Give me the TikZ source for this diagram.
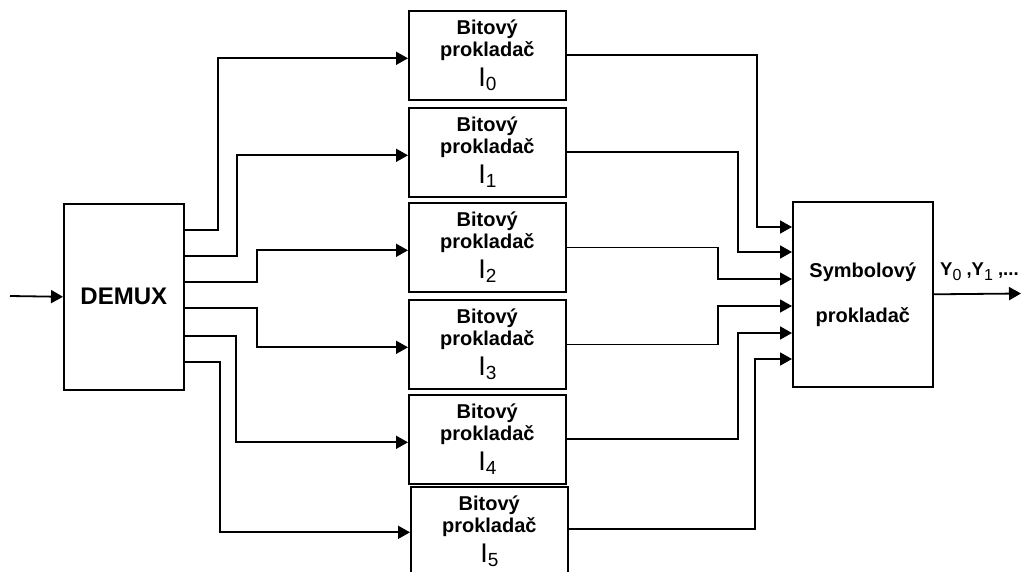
\documentclass[tikz,border=0pt]{standalone}
\usepackage{fontspec}
\setmainfont{Liberation Sans}
\usetikzlibrary{arrows.meta}
\newcommand\bitlabel[1]{Bitový\\prokladač\\[6pt]{\fontsize{27}{27}\selectfont\mdseries I\raisebox{-4pt}{\fontsize{19}{19}\selectfont #1}}}
\begin{document}
\begin{tikzpicture}[x=1pt,y=-1pt,
  box/.style={draw, line width=1.6pt, fill=white, inner sep=0pt},
  bitbox/.style={box, minimum width=157pt, minimum height=89pt, anchor=north west, align=center,
    font=\fontsize{20}{22}\selectfont\bfseries},
  arr/.style={line width=1.8pt, -{Triangle[length=12pt,width=13pt]}},
  arrthin/.style={arr, line width=1.3pt},
]
\clip (0,0) rectangle (1021,571);
\fill[white] (0,0) rectangle (1021,571);

% DEMUX
\node[box, minimum width=120pt, minimum height=186pt, anchor=north west,
  font=\fontsize{24}{24}\selectfont\bfseries] (dm) at (63,203) {DEMUX};

% bit interleavers
\node[bitbox] (b0) at (408,10)  {\bitlabel{0}};
\node[bitbox] (b1) at (408,107) {\bitlabel{1}};
\node[bitbox] (b2) at (408,202) {\bitlabel{2}};
\node[bitbox] (b3) at (408,299) {\bitlabel{3}};
\node[bitbox] (b4) at (408,394) {\bitlabel{4}};
\node[bitbox] (b5) at (410,486) {\bitlabel{5}};

% symbol interleaver
\node[box, minimum width=140pt, minimum height=185pt, anchor=north west, align=center,
  font=\fontsize{20}{45}\selectfont\bfseries] (sy) at (792,201) {Symbolový\\prokladač};

% output label
\node[anchor=base west, inner sep=0pt, font=\fontsize{18.5}{19}\selectfont\bfseries] (yl) at (940,275)
  {Y\raisebox{-5pt}{\fontsize{16}{16}\selectfont\mdseries 0} ,Y\raisebox{-5pt}{\fontsize{16}{16}\selectfont\mdseries 1} ,...};

% input / output
\coordinate (in) at (10,296);
\coordinate (out) at (1021,293.5);
\draw[arr] (in) -- (dm.west);
\draw[arr] (sy.east) -- (out);

% DEMUX -> bit interleavers
\draw[arr] ([yshift=-27pt]dm.north east) -- ++(33,0) |- ([yshift=-3pt]b0.west);
\draw[arr] ([yshift=-53pt]dm.north east) -- ++(52,0) |- ([yshift=-3pt]b1.west);
\draw[arr] ([yshift=-79pt]dm.north east) -- ++(72,0) |- ([yshift=-3pt]b2.west);
\draw[arr] ([yshift=-105pt]dm.north east) -- ++(72,0) |- ([yshift=-3pt]b3.west);
\draw[arr] ([yshift=-133pt]dm.north east) -- ++(51,0) |- ([yshift=-3pt]b4.west);
\draw[arr] ([yshift=-159pt]dm.north east) -- ++(35,0) |- ([yshift=-1pt]b5.west);

% bit interleavers -> symbol interleaver
\draw[arr] (b0.east) -| ([xshift=-35pt,yshift=-26pt]sy.north west) -- ([yshift=-26pt]sy.north west);
\draw[arr] (b1.east) -| ([xshift=-54pt,yshift=-51pt]sy.north west) -- ([yshift=-51pt]sy.north west);
\draw[arrthin] (b2.east) -| ([xshift=-74pt,yshift=-78pt]sy.north west) -- ([yshift=-78pt]sy.north west);
\draw[arrthin] (b3.east) -| ([xshift=-74pt,yshift=-105pt]sy.north west) -- ([yshift=-105pt]sy.north west);
\draw[arr] (b4.east) -| ([xshift=-54pt,yshift=-132pt]sy.north west) -- ([yshift=-132pt]sy.north west);
\draw[arr] ([yshift=2pt]b5.east) -| ([xshift=-37pt,yshift=-158pt]sy.north west) -- ([yshift=-158pt]sy.north west);
\end{tikzpicture}
\end{document}
